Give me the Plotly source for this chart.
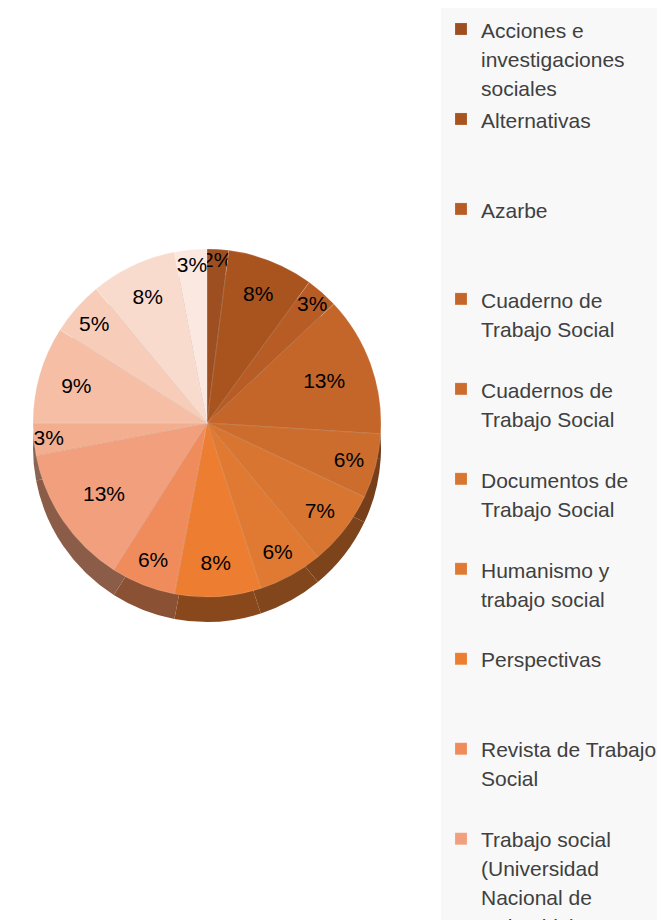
import plotly.graph_objects as go

# ---- data ----
revistas = [
    "Acciones e<br>investigaciones<br>sociales",
    "Alternativas",
    "Azarbe",
    "Cuaderno de<br>Trabajo Social",
    "Cuadernos de<br>Trabajo Social",
    "Documentos de<br>Trabajo Social",
    "Humanismo y<br>trabajo social",
    "Perspectivas",
    "Revista de Trabajo<br>Social",
    "Trabajo social<br>(Universidad<br>Nacional de<br>Colombia)",
    "Trabajo Social Global",
    "Trabajo Social Hoy",
    "Trabajo Social UNAM",
    "Voces desde el Trabajo Social",
    "Zerbitzuan",
]
porcentajes = [2, 8, 3, 13, 6, 7, 6, 8, 6, 13, 3, 9, 5, 8, 3]

# ---- styles ----
colores = [
    "#9e4f21", "#a9541f", "#b85c25", "#c4662a", "#cc6d2e",
    "#d87530", "#e07a32", "#ed7d31", "#f08c5c", "#f19f7c",
    "#f3ae90", "#f5bea5", "#f7cdb9", "#f9dbcd", "#fbe8e0",
]


def darken(hexc, f):
    h = hexc.lstrip("#")
    r, g, b = (int(h[i:i + 2], 16) for i in (0, 2, 4))
    return "#%02x%02x%02x" % (int(r * f), int(g * f), int(b * f))


colores_lado = [darken(c, 0.58) for c in colores]


# legend labels: glyphs at 21px, padded to 3 lines so items are evenly spaced
def fmt(lbl, n=3):
    lines = lbl.split("<br>")
    lines = ["<span style='font-size:21px'>%s</span>" % s for s in lines]
    while len(lines) < n:
        lines.append(" ")
    return "<br>".join(lines)


etiquetas = [fmt(l) for l in revistas]

W, H = 665, 920
OFF = 8  # page body margin shifts the figure by 8px


def dom(cx, cy, r):
    cx -= OFF
    cy -= OFF
    return dict(
        x=[(cx - r) / W, (cx + r) / W],
        y=[(H - cy - r) / H, (H - cy + r) / H],
    )


R = 174
CX, CY = 207, 423
DEPTH = 25

fig = go.Figure()

# side (depth) of the pie
fig.add_trace(go.Pie(
    labels=etiquetas,
    values=porcentajes,
    sort=False,
    direction="clockwise",
    rotation=0,
    marker=dict(colors=colores_lado, line=dict(width=0)),
    textinfo="none",
    hoverinfo="skip",
    showlegend=False,
    domain=dom(CX, CY + DEPTH, R),
))

# top face
fig.add_trace(go.Pie(
    labels=etiquetas,
    values=porcentajes,
    sort=False,
    direction="clockwise",
    rotation=0,
    marker=dict(colors=colores, line=dict(width=0.6, color="rgba(255,255,255,0.25)")),
    texttemplate="%{percent:.0%}",
    textposition="inside",
    insidetextorientation="horizontal",
    textfont=dict(family="Liberation Sans, Arial", size=21, color="#000000"),
    domain=dom(CX, CY, R),
))

fig.update_layout(
    width=W,
    height=H,
    paper_bgcolor="white",
    plot_bgcolor="white",
    margin=dict(l=0, r=0, t=0, b=0, autoexpand=False),
    uniformtext=dict(minsize=21, mode="show"),
    legend=dict(
        x=(441 - OFF) / W,
        xanchor="left",
        y=1,
        yanchor="top",
        bgcolor="#f8f8f8",
        font=dict(family="Liberation Sans, Arial", size=22.3, color="#404040"),
        valign="top",
        itemwidth=30,
    ),
)

fig.write_html("out.html")
